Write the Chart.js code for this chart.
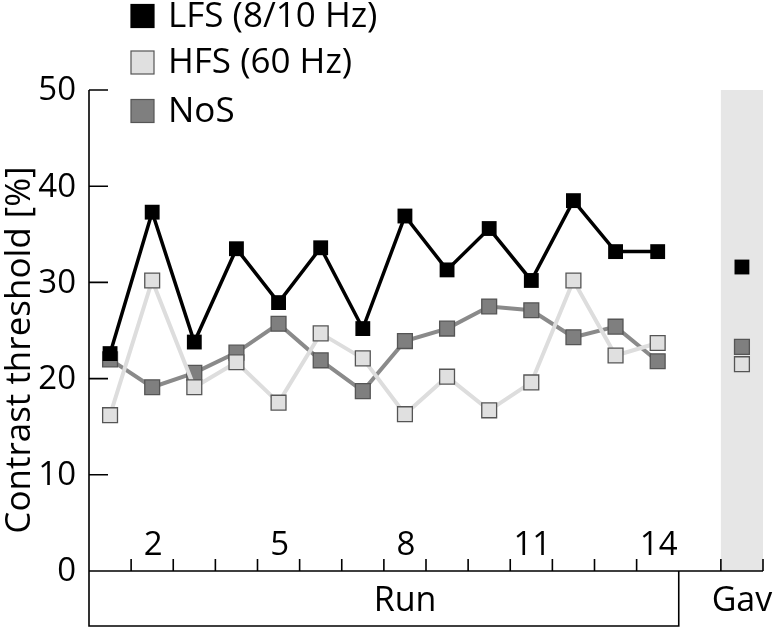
<!DOCTYPE html>
<html>
<head>
<meta charset="utf-8">
<script src="https://cdn.jsdelivr.net/npm/chart.js@4.4.1/dist/chart.umd.min.js"></script>
<style>
  html, body { margin: 0; padding: 0; background: #fff; }
</style>
</head>
<body>
<canvas id="chart" width="776" height="627"></canvas>
<script>
// ===== Data =====
const runs = [1, 2, 3, 4, 5, 6, 7, 8, 9, 10, 11, 12, 13, 14];
const lfs = [22.6, 37.3, 23.8, 33.5, 27.9, 33.6, 25.2, 36.9, 31.3, 35.6, 30.2, 38.5, 33.2, 33.2];
const hfs = [16.2, 30.2, 19.1, 21.7, 17.5, 24.7, 22.1, 16.3, 20.2, 16.7, 19.6, 30.2, 22.4, 23.7];
const nos = [22.0, 19.1, 20.6, 22.7, 25.7, 21.9, 18.7, 23.9, 25.2, 27.5, 27.1, 24.3, 25.4, 21.8];

// grand average column
const gavX = 16;
const lfsGav = [31.6];
const hfsGav = [21.5];
const nosGav = [23.3];

const yTicks = [0, 10, 20, 30, 40, 50];
const runTickLabels = [2, 5, 8, 11, 14];
const seriesNames = ['LFS (8/10 Hz)', 'HFS (60 Hz)', 'NoS'];

const FONT = '"Open Sans", "Noto Sans", sans-serif';

const toPoints = (vals) => vals.map((v, i) => ({ x: runs[i], y: v }));

// ===== Custom axes, band, labels, legend =====
const decor = {
    id: 'decor',
    beforeDatasetsDraw(chart) {
        const { ctx, chartArea: a, scales: { x, y } } = chart;
        ctx.save();

        // grey band behind the average
        ctx.fillStyle = '#e6e6e6';
        ctx.fillRect(x.getPixelForValue(15.5), a.top, x.getPixelForValue(16.5) - x.getPixelForValue(15.5), a.bottom - a.top);

        ctx.strokeStyle = '#000';
        ctx.lineWidth = 1.6;
        const y0 = y.getPixelForValue(0);
        const boxBottom = 626;
        const runEnd = x.getPixelForValue(14.5);

        ctx.beginPath();
        // y axis + box left side
        ctx.moveTo(a.left, a.top);
        ctx.lineTo(a.left, boxBottom);
        // box bottom + right side
        ctx.lineTo(runEnd, boxBottom);
        ctx.lineTo(runEnd, y0);
        // x axis
        ctx.moveTo(a.left, y0);
        ctx.lineTo(a.right, y0);
        // y ticks (inward)
        yTicks.forEach(t => {
            if (t === 0) return;
            const py = y.getPixelForValue(t);
            ctx.moveTo(a.left, py);
            ctx.lineTo(a.left + 19, py);
        });
        // x ticks between runs, and bracket of the average
        for (let r = 1.5; r <= 16.5; r += 1) {
            if (r === 14.5) continue;
            const px = x.getPixelForValue(r);
            ctx.moveTo(px, y0);
            ctx.lineTo(px, y0 - 12);
        }
        ctx.stroke();

        ctx.fillStyle = '#000';
        ctx.font = `33px ${FONT}`;
        ctx.textAlign = 'right';
        ctx.textBaseline = 'middle';
        yTicks.forEach(t => ctx.fillText(String(t), 76, y.getPixelForValue(t) + 1));

        ctx.textAlign = 'center';
        runTickLabels.forEach(r => ctx.fillText(String(r), x.getPixelForValue(r) + 1, y0 - 25));

        ctx.font = `34px ${FONT}`;
        ctx.fillText('Run', 405, 601);
        ctx.fillText('Gav', x.getPixelForValue(gavX), 601);

        // y title
        ctx.save();
        ctx.translate(20, 350);
        ctx.rotate(-Math.PI / 2);
        ctx.font = `35px ${FONT}`;
        ctx.fillText('Contrast threshold [%]', 0, 0);
        ctx.restore();

        // legend
        const rowsY = [16, 62.5, 111];
        chart.data.datasets.slice(0, 3).forEach((ds, i) => {
            ctx.fillStyle = ds.pointBackgroundColor;
            ctx.fillRect(131, rowsY[i] - 11.5, 23, 23);
            ctx.strokeStyle = ds.pointBorderColor;
            ctx.lineWidth = 1.2;
            ctx.strokeRect(131, rowsY[i] - 11.5, 23, 23);
            ctx.fillStyle = '#000';
            ctx.textAlign = 'left';
            ctx.font = `35px ${FONT}`;
            ctx.fillText(seriesNames[i], 168, rowsY[i] + 1);
        });

        ctx.restore();
    }
};

const ctx = document.getElementById('chart').getContext('2d');
new Chart(ctx, {
    type: 'line',
    data: {
        datasets: [
            {
                label: seriesNames[0],
                data: toPoints(lfs),
                borderColor: '#000',
                borderWidth: 3.5,
                pointBackgroundColor: '#000',
                pointBorderColor: '#000',
                pointBorderWidth: 0
            },
            {
                label: seriesNames[1],
                data: toPoints(hfs),
                borderColor: '#dddddd',
                borderWidth: 4,
                pointBackgroundColor: '#e0e0e0',
                pointBorderColor: '#555',
                pointBorderWidth: 1.3
            },
            {
                label: seriesNames[2],
                data: toPoints(nos),
                borderColor: '#8a8a8a',
                borderWidth: 4,
                pointBackgroundColor: '#7f7f7f',
                pointBorderColor: '#555',
                pointBorderWidth: 1.3
            },
            {
                label: 'LFS Gav',
                data: lfsGav.map(v => ({ x: gavX, y: v })),
                showLine: false,
                pointBackgroundColor: '#000',
                pointBorderColor: '#000',
                pointBorderWidth: 0
            },
            {
                label: 'HFS Gav',
                data: hfsGav.map(v => ({ x: gavX, y: v })),
                showLine: false,
                pointBackgroundColor: '#e0e0e0',
                pointBorderColor: '#555',
                pointBorderWidth: 1.3
            },
            {
                label: 'NoS Gav',
                data: nosGav.map(v => ({ x: gavX, y: v })),
                showLine: false,
                pointBackgroundColor: '#7f7f7f',
                pointBorderColor: '#555',
                pointBorderWidth: 1.3
            }
        ]
    },
    options: {
        responsive: false,
        animation: false,
        layout: { padding: { left: 89, right: 13, top: 90, bottom: 56 } },
        elements: {
            point: { pointStyle: 'rect', radius: 10.5, hoverRadius: 10.5 },
            line: { tension: 0 }
        },
        clip: false,
        scales: {
            x: { type: 'linear', min: 0.5, max: 16.5, display: false },
            y: { min: 0, max: 50, display: false }
        },
        plugins: {
            legend: { display: false },
            tooltip: { enabled: false }
        }
    },
    plugins: [decor]
});
</script>
</body>
</html>
